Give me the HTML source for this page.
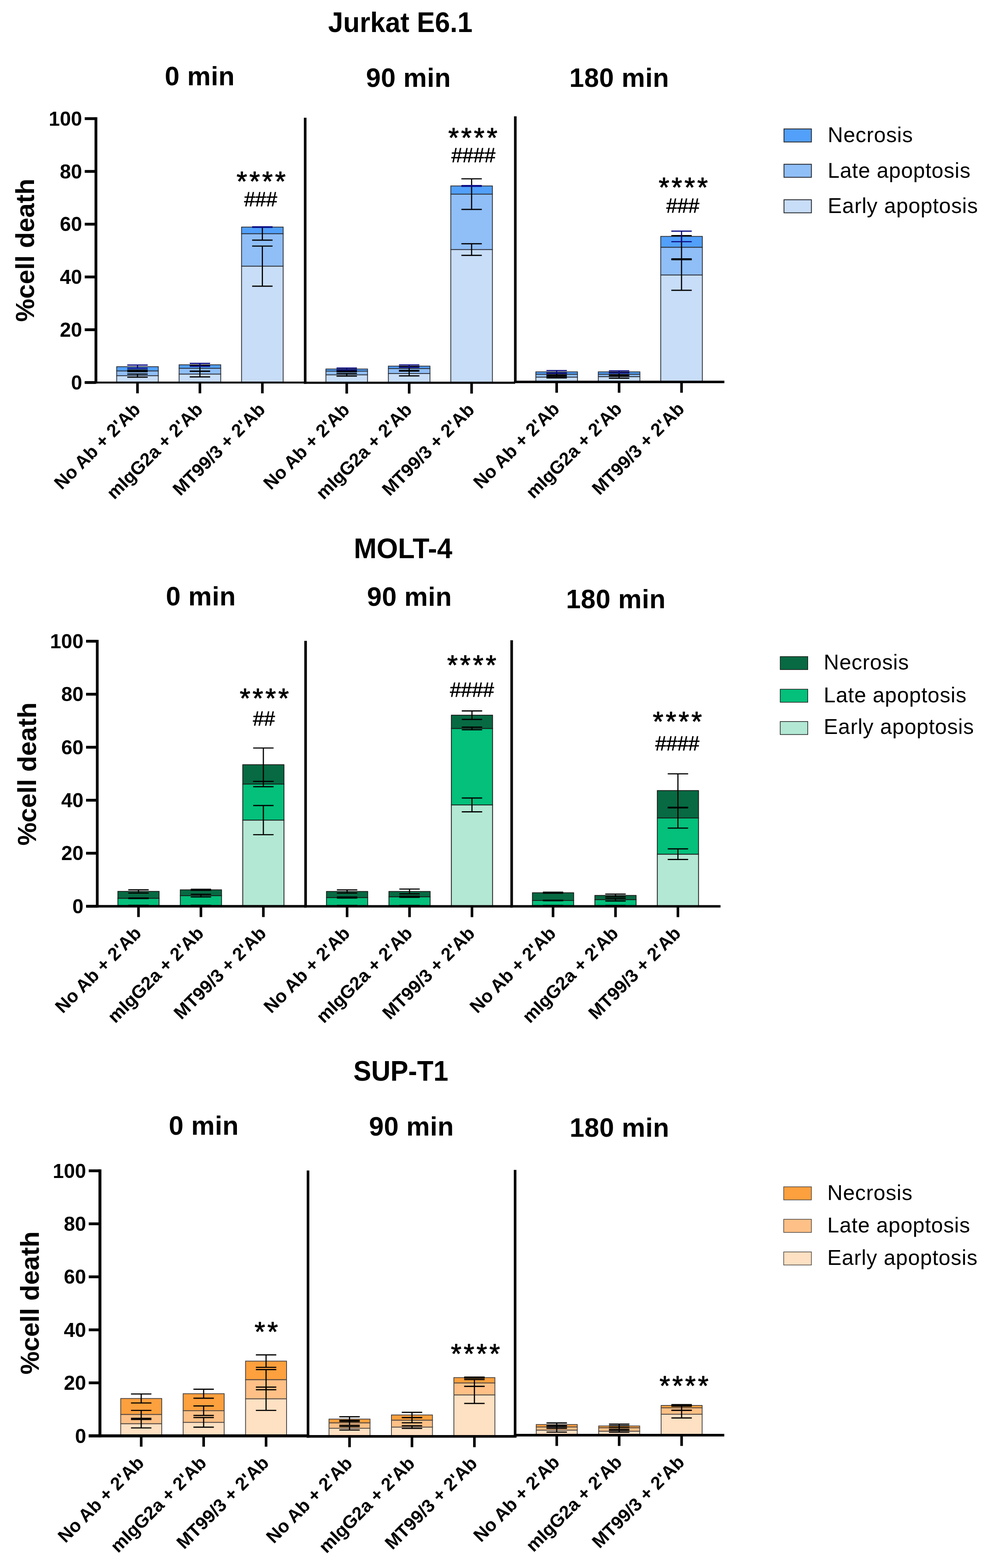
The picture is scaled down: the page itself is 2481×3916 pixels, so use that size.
<!DOCTYPE html>
<html><head><meta charset="utf-8"><title>Cell death</title>
<style>
html,body{margin:0;padding:0;background:#fff;}
svg{display:block;}
.b{font-family:'Liberation Sans', Arial, Helvetica, sans-serif;font-weight:bold;fill:#000;}
.r{font-family:'Liberation Sans', Arial, Helvetica, sans-serif;font-weight:normal;fill:#000;}
.hs{stroke:#000;stroke-width:0.9px;}
.ss{stroke:#000;stroke-width:1.3px;stroke-linejoin:round;}
</style></head><body>
<svg width="2481" height="3916" viewBox="0 0 2481 3916">
<rect width="2481" height="3916" fill="#fff"/>
<text x="1000.3" y="79.5" class="b" font-size="70" text-anchor="middle" textLength="360.9" lengthAdjust="spacingAndGlyphs">Jurkat E6.1</text>
<text x="499.2" y="212.9" class="b" font-size="66" letter-spacing="0.5" text-anchor="middle">0 min</text>
<text x="1020.5" y="216.7" class="b" font-size="66" letter-spacing="0.5" text-anchor="middle">90 min</text>
<text x="1547.2" y="217.4" class="b" font-size="66" letter-spacing="0.5" text-anchor="middle">180 min</text>
<text transform="translate(84.8,625) rotate(-90)" class="b" font-size="65" text-anchor="middle">%cell death</text>
<rect x="291.5" y="938.2" width="104" height="17.1" fill="#c8ddf7" stroke="#2b2f36" stroke-width="2"/>
<rect x="291.5" y="926.3" width="104" height="11.9" fill="#90bef7" stroke="#2b2f36" stroke-width="2"/>
<rect x="291.5" y="915.8" width="104" height="10.5" fill="#52a0fa" stroke="#2b2f36" stroke-width="2"/>
<rect x="447.5" y="934.2" width="104" height="21.1" fill="#c8ddf7" stroke="#2b2f36" stroke-width="2"/>
<rect x="447.5" y="919.7" width="104" height="14.5" fill="#90bef7" stroke="#2b2f36" stroke-width="2"/>
<rect x="447.5" y="911.1" width="104" height="8.6" fill="#52a0fa" stroke="#2b2f36" stroke-width="2"/>
<rect x="603.5" y="664.7" width="104" height="290.6" fill="#c8ddf7" stroke="#2b2f36" stroke-width="2"/>
<rect x="603.5" y="583.6" width="104" height="81.1" fill="#90bef7" stroke="#2b2f36" stroke-width="2"/>
<rect x="603.5" y="567.1" width="104" height="16.5" fill="#52a0fa" stroke="#2b2f36" stroke-width="2"/>
<path d="M343.5 934.2V942.1M318 934.2H369M318 942.1H369" stroke="#000000" stroke-width="2.9" fill="none"/>
<path d="M343.5 924.3V928.3M318 924.3H369M318 928.3H369" stroke="#000000" stroke-width="2.9" fill="none"/>
<path d="M343.5 911.8V919.7M318 911.8H369M318 919.7H369" stroke="#0c0c84" stroke-width="2.9" fill="none"/>
<path d="M499.5 927.2V941.2M474 927.2H525M474 941.2H525" stroke="#000000" stroke-width="2.9" fill="none"/>
<path d="M499.5 912.5V927M474 912.5H525M474 927H525" stroke="#000000" stroke-width="2.9" fill="none"/>
<path d="M499.5 907.5V914.8M474 907.5H525M474 914.8H525" stroke="#0c0c84" stroke-width="2.9" fill="none"/>
<path d="M655.5 614.6V714.8M630 614.6H681M630 714.8H681" stroke="#000000" stroke-width="2.9" fill="none"/>
<path d="M655.5 567.4V599.8M630 567.4H681M630 599.8H681" stroke="#000000" stroke-width="2.9" fill="none"/>
<path d="M655.5 566.5V567.8M630 566.5H681M630 567.8H681" stroke="#0c0c84" stroke-width="2.9" fill="none"/>
<path d="M211.7 955.3H762" stroke="#000" stroke-width="4.8"/>
<path d="M239.7 292.8V957.7" stroke="#000" stroke-width="7"/>
<path d="M211.7 955.3H239.7" stroke="#000" stroke-width="7"/>
<text x="205.2" y="972.8" class="b" font-size="50" text-anchor="end">0</text>
<path d="M211.7 823.5H239.7" stroke="#000" stroke-width="7"/>
<text x="205.2" y="841" class="b" font-size="50" text-anchor="end">20</text>
<path d="M211.7 691.7H239.7" stroke="#000" stroke-width="7"/>
<text x="205.2" y="709.2" class="b" font-size="50" text-anchor="end">40</text>
<path d="M211.7 559.9H239.7" stroke="#000" stroke-width="7"/>
<text x="205.2" y="577.4" class="b" font-size="50" text-anchor="end">60</text>
<path d="M211.7 428.1H239.7" stroke="#000" stroke-width="7"/>
<text x="205.2" y="445.6" class="b" font-size="50" text-anchor="end">80</text>
<path d="M211.7 296.3H239.7" stroke="#000" stroke-width="7"/>
<text x="205.2" y="313.8" class="b" font-size="50" text-anchor="end">100</text>
<path d="M343.5 955.3V982.3" stroke="#000" stroke-width="6.5"/>
<text transform="translate(353.2,1025.6) rotate(-45)" class="b" font-size="45.6" text-anchor="end">No Ab + 2'Ab</text>
<path d="M499.5 955.3V982.3" stroke="#000" stroke-width="6.5"/>
<text transform="translate(509.2,1025.6) rotate(-45)" class="b" font-size="45.6" text-anchor="end">mIgG2a + 2'Ab</text>
<path d="M655.5 955.3V982.3" stroke="#000" stroke-width="6.5"/>
<text transform="translate(665.2,1025.6) rotate(-45)" class="b" font-size="45.6" text-anchor="end">MT99/3 + 2'Ab</text>
<text x="655.1" y="475.7" class="r ss" font-size="68" letter-spacing="5.6" text-anchor="middle">****</text>
<text x="651.2" y="515.4" class="r hs" font-size="49.5" text-anchor="middle">###</text>
<rect x="814.3" y="936.1" width="104" height="19.8" fill="#c8ddf7" stroke="#2b2f36" stroke-width="2"/>
<rect x="814.3" y="926.9" width="104" height="9.2" fill="#90bef7" stroke="#2b2f36" stroke-width="2"/>
<rect x="814.3" y="921.6" width="104" height="5.3" fill="#52a0fa" stroke="#2b2f36" stroke-width="2"/>
<rect x="970.3" y="932.8" width="104" height="23.1" fill="#c8ddf7" stroke="#2b2f36" stroke-width="2"/>
<rect x="970.3" y="920.3" width="104" height="12.5" fill="#90bef7" stroke="#2b2f36" stroke-width="2"/>
<rect x="970.3" y="914.4" width="104" height="5.9" fill="#52a0fa" stroke="#2b2f36" stroke-width="2"/>
<rect x="1126.3" y="623.2" width="104" height="332.7" fill="#c8ddf7" stroke="#2b2f36" stroke-width="2"/>
<rect x="1126.3" y="484.8" width="104" height="138.4" fill="#90bef7" stroke="#2b2f36" stroke-width="2"/>
<rect x="1126.3" y="464.4" width="104" height="20.4" fill="#52a0fa" stroke="#2b2f36" stroke-width="2"/>
<path d="M866.3 932.8V939.4M840.8 932.8H891.8M840.8 939.4H891.8" stroke="#000000" stroke-width="2.9" fill="none"/>
<path d="M866.3 925.6V928.2M840.8 925.6H891.8M840.8 928.2H891.8" stroke="#000000" stroke-width="2.9" fill="none"/>
<path d="M866.3 919.3V923.9M840.8 919.3H891.8M840.8 923.9H891.8" stroke="#0c0c84" stroke-width="2.9" fill="none"/>
<path d="M1022.3 926.9V938.8M996.8 926.9H1047.8M996.8 938.8H1047.8" stroke="#000000" stroke-width="2.9" fill="none"/>
<path d="M1022.3 915.4V925.3M996.8 915.4H1047.8M996.8 925.3H1047.8" stroke="#000000" stroke-width="2.9" fill="none"/>
<path d="M1022.3 911.4V917.4M996.8 911.4H1047.8M996.8 917.4H1047.8" stroke="#0c0c84" stroke-width="2.9" fill="none"/>
<path d="M1178.3 608.7V637.7M1152.8 608.7H1203.8M1152.8 637.7H1203.8" stroke="#000000" stroke-width="2.9" fill="none"/>
<path d="M1178.3 446.6V523M1152.8 446.6H1203.8M1152.8 523H1203.8" stroke="#000000" stroke-width="2.9" fill="none"/>
<path d="M1178.3 463.4V465.3M1152.8 463.4H1203.8M1152.8 465.3H1203.8" stroke="#0c0c84" stroke-width="2.9" fill="none"/>
<path d="M759.2 955.9H1287" stroke="#000" stroke-width="5.2"/>
<path d="M762.5 294V958.5" stroke="#000" stroke-width="6.5"/>
<path d="M866.3 955.9V982.9" stroke="#000" stroke-width="6.5"/>
<text transform="translate(876,1026.2) rotate(-45)" class="b" font-size="45.6" text-anchor="end">No Ab + 2'Ab</text>
<path d="M1022.3 955.9V982.9" stroke="#000" stroke-width="6.5"/>
<text transform="translate(1032,1026.2) rotate(-45)" class="b" font-size="45.6" text-anchor="end">mIgG2a + 2'Ab</text>
<path d="M1178.3 955.9V982.9" stroke="#000" stroke-width="6.5"/>
<text transform="translate(1188,1026.2) rotate(-45)" class="b" font-size="45.6" text-anchor="end">MT99/3 + 2'Ab</text>
<text x="1184.1" y="366.9" class="r ss" font-size="68" letter-spacing="5.6" text-anchor="middle">****</text>
<text x="1182.8" y="405.4" class="r hs" font-size="49.5" text-anchor="middle">####</text>
<rect x="1338.8" y="941.9" width="104" height="11.9" fill="#c8ddf7" stroke="#2b2f36" stroke-width="2"/>
<rect x="1338.8" y="934.6" width="104" height="7.3" fill="#90bef7" stroke="#2b2f36" stroke-width="2"/>
<rect x="1338.8" y="928.7" width="104" height="5.9" fill="#52a0fa" stroke="#2b2f36" stroke-width="2"/>
<rect x="1494.8" y="940.6" width="104" height="13.2" fill="#c8ddf7" stroke="#2b2f36" stroke-width="2"/>
<rect x="1494.8" y="934.6" width="104" height="5.9" fill="#90bef7" stroke="#2b2f36" stroke-width="2"/>
<rect x="1494.8" y="928.7" width="104" height="5.9" fill="#52a0fa" stroke="#2b2f36" stroke-width="2"/>
<rect x="1650.8" y="686.7" width="104" height="267" fill="#c8ddf7" stroke="#2b2f36" stroke-width="2"/>
<rect x="1650.8" y="617.5" width="104" height="69.2" fill="#90bef7" stroke="#2b2f36" stroke-width="2"/>
<rect x="1650.8" y="590.4" width="104" height="27" fill="#52a0fa" stroke="#2b2f36" stroke-width="2"/>
<path d="M1390.8 939.9V943.9M1365.3 939.9H1416.3M1365.3 943.9H1416.3" stroke="#000000" stroke-width="2.9" fill="none"/>
<path d="M1390.8 932V937.3M1365.3 932H1416.3M1365.3 937.3H1416.3" stroke="#000000" stroke-width="2.9" fill="none"/>
<path d="M1390.8 925.4V932M1365.3 925.4H1416.3M1365.3 932H1416.3" stroke="#0c0c84" stroke-width="2.9" fill="none"/>
<path d="M1546.8 936.6V944.5M1521.3 936.6H1572.3M1521.3 944.5H1572.3" stroke="#000000" stroke-width="2.9" fill="none"/>
<path d="M1546.8 930.7V938.6M1521.3 930.7H1572.3M1521.3 938.6H1572.3" stroke="#000000" stroke-width="2.9" fill="none"/>
<path d="M1546.8 926.1V931.3M1521.3 926.1H1572.3M1521.3 931.3H1572.3" stroke="#0c0c84" stroke-width="2.9" fill="none"/>
<path d="M1702.8 648.5V725M1677.3 648.5H1728.3M1677.3 725H1728.3" stroke="#000000" stroke-width="2.9" fill="none"/>
<path d="M1702.8 588.5V646.5M1677.3 588.5H1728.3M1677.3 646.5H1728.3" stroke="#000000" stroke-width="2.9" fill="none"/>
<path d="M1702.8 577.3V603.6M1677.3 577.3H1728.3M1677.3 603.6H1728.3" stroke="#0c0c84" stroke-width="2.9" fill="none"/>
<path d="M1284.2 953.8H1809.8" stroke="#000" stroke-width="6.3"/>
<path d="M1287.5 290.5V956.9" stroke="#000" stroke-width="6.5"/>
<path d="M1390.8 953.8V980.8" stroke="#000" stroke-width="6.5"/>
<text transform="translate(1400.5,1024) rotate(-45)" class="b" font-size="45.6" text-anchor="end">No Ab + 2'Ab</text>
<path d="M1546.8 953.8V980.8" stroke="#000" stroke-width="6.5"/>
<text transform="translate(1556.5,1024) rotate(-45)" class="b" font-size="45.6" text-anchor="end">mIgG2a + 2'Ab</text>
<path d="M1702.8 953.8V980.8" stroke="#000" stroke-width="6.5"/>
<text transform="translate(1712.5,1024) rotate(-45)" class="b" font-size="45.6" text-anchor="end">MT99/3 + 2'Ab</text>
<text x="1709.9" y="491.1" class="r ss" font-size="68" letter-spacing="5.6" text-anchor="middle">****</text>
<text x="1706.1" y="530.5" class="r hs" font-size="49.5" text-anchor="middle">###</text>
<rect x="1958.8" y="322" width="68.5" height="32.6" fill="#52a0fa" stroke="#2b2f36" stroke-width="2.2"/>
<text x="2068" y="355" class="r" font-size="53" letter-spacing="0.9">Necrosis</text>
<rect x="1958.8" y="410.2" width="68.5" height="32.6" fill="#90bef7" stroke="#2b2f36" stroke-width="2.2"/>
<text x="2068" y="443.5" class="r" font-size="53" letter-spacing="0.9">Late apoptosis</text>
<rect x="1958.8" y="498.9" width="68.5" height="32.6" fill="#c8ddf7" stroke="#2b2f36" stroke-width="2.2"/>
<text x="2068" y="532.2" class="r" font-size="53" letter-spacing="0.9">Early apoptosis</text>
<text x="1007" y="1394.3" class="b" font-size="69.5" text-anchor="middle" textLength="246.2" lengthAdjust="spacingAndGlyphs">MOLT-4</text>
<text x="501.9" y="1512.3" class="b" font-size="66" letter-spacing="0.5" text-anchor="middle">0 min</text>
<text x="1023" y="1513.4" class="b" font-size="66" letter-spacing="0.5" text-anchor="middle">90 min</text>
<text x="1538.8" y="1518.6" class="b" font-size="66" letter-spacing="0.5" text-anchor="middle">180 min</text>
<text transform="translate(90.2,1933) rotate(-90)" class="b" font-size="65" text-anchor="middle">%cell death</text>
<rect x="294.5" y="2261.3" width="103" height="2" fill="#b3e8d4" stroke="#1a1a1a" stroke-width="2"/>
<rect x="294.5" y="2243.4" width="103" height="17.9" fill="#04c07b" stroke="#1a1a1a" stroke-width="2"/>
<rect x="294.5" y="2226.2" width="103" height="17.2" fill="#076a43" stroke="#1a1a1a" stroke-width="2"/>
<rect x="450.5" y="2261.3" width="103" height="2" fill="#b3e8d4" stroke="#1a1a1a" stroke-width="2"/>
<rect x="450.5" y="2236.8" width="103" height="24.5" fill="#04c07b" stroke="#1a1a1a" stroke-width="2"/>
<rect x="450.5" y="2222.3" width="103" height="14.6" fill="#076a43" stroke="#1a1a1a" stroke-width="2"/>
<rect x="606.5" y="2048.2" width="103" height="215.1" fill="#b3e8d4" stroke="#1a1a1a" stroke-width="2"/>
<rect x="606.5" y="1958.2" width="103" height="90" fill="#04c07b" stroke="#1a1a1a" stroke-width="2"/>
<rect x="606.5" y="1909.8" width="103" height="48.3" fill="#076a43" stroke="#1a1a1a" stroke-width="2"/>
<path d="M346 2261V2261.6M320.5 2261H371.5M320.5 2261.6H371.5" stroke="#000000" stroke-width="2.9" fill="none"/>
<path d="M346 2242.8V2244.1M320.5 2242.8H371.5M320.5 2244.1H371.5" stroke="#000000" stroke-width="2.9" fill="none"/>
<path d="M346 2222.3V2230.2M320.5 2222.3H371.5M320.5 2230.2H371.5" stroke="#000000" stroke-width="2.9" fill="none"/>
<path d="M502 2261V2261.6M476.5 2261H527.5M476.5 2261.6H527.5" stroke="#000000" stroke-width="2.9" fill="none"/>
<path d="M502 2233.5V2240.1M476.5 2233.5H527.5M476.5 2240.1H527.5" stroke="#000000" stroke-width="2.9" fill="none"/>
<path d="M502 2220.9V2223.6M476.5 2220.9H527.5M476.5 2223.6H527.5" stroke="#000000" stroke-width="2.9" fill="none"/>
<path d="M658 2011.8V2084.6M632.5 2011.8H683.5M632.5 2084.6H683.5" stroke="#000000" stroke-width="2.9" fill="none"/>
<path d="M658 1951.5V1964.8M632.5 1951.5H683.5M632.5 1964.8H683.5" stroke="#000000" stroke-width="2.9" fill="none"/>
<path d="M658 1868.1V1951.5M632.5 1868.1H683.5M632.5 1951.5H683.5" stroke="#000000" stroke-width="2.9" fill="none"/>
<path d="M215 2263.3H763.5" stroke="#000" stroke-width="6.2"/>
<path d="M243 1597.9V2266.4" stroke="#000" stroke-width="6.8"/>
<path d="M215 2263.3H243" stroke="#000" stroke-width="7"/>
<text x="208.5" y="2280.8" class="b" font-size="50" text-anchor="end">0</text>
<path d="M215 2130.9H243" stroke="#000" stroke-width="7"/>
<text x="208.5" y="2148.4" class="b" font-size="50" text-anchor="end">20</text>
<path d="M215 1998.5H243" stroke="#000" stroke-width="7"/>
<text x="208.5" y="2016" class="b" font-size="50" text-anchor="end">40</text>
<path d="M215 1866.2H243" stroke="#000" stroke-width="7"/>
<text x="208.5" y="1883.7" class="b" font-size="50" text-anchor="end">60</text>
<path d="M215 1733.8H243" stroke="#000" stroke-width="7"/>
<text x="208.5" y="1751.3" class="b" font-size="50" text-anchor="end">80</text>
<path d="M215 1601.4H243" stroke="#000" stroke-width="7"/>
<text x="208.5" y="1618.9" class="b" font-size="50" text-anchor="end">100</text>
<path d="M346 2263.3V2290.3" stroke="#000" stroke-width="6.5"/>
<text transform="translate(355.7,2333.6) rotate(-45)" class="b" font-size="45.6" text-anchor="end">No Ab + 2'Ab</text>
<path d="M502 2263.3V2290.3" stroke="#000" stroke-width="6.5"/>
<text transform="translate(511.7,2333.6) rotate(-45)" class="b" font-size="45.6" text-anchor="end">mIgG2a + 2'Ab</text>
<path d="M658 2263.3V2290.3" stroke="#000" stroke-width="6.5"/>
<text transform="translate(667.7,2333.6) rotate(-45)" class="b" font-size="45.6" text-anchor="end">MT99/3 + 2'Ab</text>
<text x="663.1" y="1767" class="r ss" font-size="68" letter-spacing="5.6" text-anchor="middle">****</text>
<text x="659.5" y="1812.3" class="r hs" font-size="49.5" text-anchor="middle">##</text>
<rect x="815.7" y="2261.5" width="103" height="2" fill="#b3e8d4" stroke="#1a1a1a" stroke-width="2"/>
<rect x="815.7" y="2241.6" width="103" height="19.9" fill="#04c07b" stroke="#1a1a1a" stroke-width="2"/>
<rect x="815.7" y="2226.4" width="103" height="15.2" fill="#076a43" stroke="#1a1a1a" stroke-width="2"/>
<rect x="971.7" y="2261.5" width="103" height="2" fill="#b3e8d4" stroke="#1a1a1a" stroke-width="2"/>
<rect x="971.7" y="2239.6" width="103" height="21.9" fill="#04c07b" stroke="#1a1a1a" stroke-width="2"/>
<rect x="971.7" y="2226.4" width="103" height="13.3" fill="#076a43" stroke="#1a1a1a" stroke-width="2"/>
<rect x="1127.7" y="2010.2" width="103" height="253.3" fill="#b3e8d4" stroke="#1a1a1a" stroke-width="2"/>
<rect x="1127.7" y="1819.3" width="103" height="190.9" fill="#04c07b" stroke="#1a1a1a" stroke-width="2"/>
<rect x="1127.7" y="1786.1" width="103" height="33.2" fill="#076a43" stroke="#1a1a1a" stroke-width="2"/>
<path d="M867.2 2261.2V2261.8M841.7 2261.2H892.7M841.7 2261.8H892.7" stroke="#000000" stroke-width="2.9" fill="none"/>
<path d="M867.2 2240.3V2242.9M841.7 2240.3H892.7M841.7 2242.9H892.7" stroke="#000000" stroke-width="2.9" fill="none"/>
<path d="M867.2 2222.4V2230.3M841.7 2222.4H892.7M841.7 2230.3H892.7" stroke="#000000" stroke-width="2.9" fill="none"/>
<path d="M1023.2 2261.2V2261.8M997.7 2261.2H1048.7M997.7 2261.8H1048.7" stroke="#000000" stroke-width="2.9" fill="none"/>
<path d="M1023.2 2238.3V2241M997.7 2238.3H1048.7M997.7 2241H1048.7" stroke="#000000" stroke-width="2.9" fill="none"/>
<path d="M1023.2 2220.4V2232.3M997.7 2220.4H1048.7M997.7 2232.3H1048.7" stroke="#000000" stroke-width="2.9" fill="none"/>
<path d="M1179.2 1993V2027.5M1153.7 1993H1204.7M1153.7 2027.5H1204.7" stroke="#000000" stroke-width="2.9" fill="none"/>
<path d="M1179.2 1816V1822.6M1153.7 1816H1204.7M1153.7 1822.6H1204.7" stroke="#000000" stroke-width="2.9" fill="none"/>
<path d="M1179.2 1775.5V1796.7M1153.7 1775.5H1204.7M1153.7 1796.7H1204.7" stroke="#000000" stroke-width="2.9" fill="none"/>
<path d="M760.2 2263.5H1278.4" stroke="#000" stroke-width="6.2"/>
<path d="M763.5 1600.5V2266.6" stroke="#000" stroke-width="6.5"/>
<path d="M867.2 2263.5V2290.5" stroke="#000" stroke-width="6.5"/>
<text transform="translate(876.9,2333.8) rotate(-45)" class="b" font-size="45.6" text-anchor="end">No Ab + 2'Ab</text>
<path d="M1023.2 2263.5V2290.5" stroke="#000" stroke-width="6.5"/>
<text transform="translate(1032.9,2333.8) rotate(-45)" class="b" font-size="45.6" text-anchor="end">mIgG2a + 2'Ab</text>
<path d="M1179.2 2263.5V2290.5" stroke="#000" stroke-width="6.5"/>
<text transform="translate(1188.9,2333.8) rotate(-45)" class="b" font-size="45.6" text-anchor="end">MT99/3 + 2'Ab</text>
<text x="1181.4" y="1684" class="r ss" font-size="68" letter-spacing="5.6" text-anchor="middle">****</text>
<text x="1179.2" y="1740" class="r hs" font-size="49.5" text-anchor="middle">####</text>
<rect x="1330.3" y="2261.5" width="103" height="2" fill="#b3e8d4" stroke="#1a1a1a" stroke-width="2"/>
<rect x="1330.3" y="2248.9" width="103" height="12.6" fill="#04c07b" stroke="#1a1a1a" stroke-width="2"/>
<rect x="1330.3" y="2229.6" width="103" height="19.3" fill="#076a43" stroke="#1a1a1a" stroke-width="2"/>
<rect x="1486.3" y="2261.5" width="103" height="2" fill="#b3e8d4" stroke="#1a1a1a" stroke-width="2"/>
<rect x="1486.3" y="2246.9" width="103" height="14.6" fill="#04c07b" stroke="#1a1a1a" stroke-width="2"/>
<rect x="1486.3" y="2236.3" width="103" height="10.6" fill="#076a43" stroke="#1a1a1a" stroke-width="2"/>
<rect x="1642.3" y="2133.3" width="103" height="130.2" fill="#b3e8d4" stroke="#1a1a1a" stroke-width="2"/>
<rect x="1642.3" y="2042.9" width="103" height="90.4" fill="#04c07b" stroke="#1a1a1a" stroke-width="2"/>
<rect x="1642.3" y="1974.4" width="103" height="68.4" fill="#076a43" stroke="#1a1a1a" stroke-width="2"/>
<path d="M1381.8 2261.2V2261.8M1356.3 2261.2H1407.3M1356.3 2261.8H1407.3" stroke="#000000" stroke-width="2.9" fill="none"/>
<path d="M1381.8 2248.2V2249.5M1356.3 2248.2H1407.3M1356.3 2249.5H1407.3" stroke="#000000" stroke-width="2.9" fill="none"/>
<path d="M1381.8 2228.3V2230.9M1356.3 2228.3H1407.3M1356.3 2230.9H1407.3" stroke="#000000" stroke-width="2.9" fill="none"/>
<path d="M1537.8 2261.2V2261.8M1512.3 2261.2H1563.3M1512.3 2261.8H1563.3" stroke="#000000" stroke-width="2.9" fill="none"/>
<path d="M1537.8 2243.6V2250.2M1512.3 2243.6H1563.3M1512.3 2250.2H1563.3" stroke="#000000" stroke-width="2.9" fill="none"/>
<path d="M1537.8 2232.9V2239.6M1512.3 2232.9H1563.3M1512.3 2239.6H1563.3" stroke="#000000" stroke-width="2.9" fill="none"/>
<path d="M1693.8 2120V2146.5M1668.3 2120H1719.3M1668.3 2146.5H1719.3" stroke="#000000" stroke-width="2.9" fill="none"/>
<path d="M1693.8 2017.6V2068.1M1668.3 2017.6H1719.3M1668.3 2068.1H1719.3" stroke="#000000" stroke-width="2.9" fill="none"/>
<path d="M1693.8 1932.6V2016.3M1668.3 1932.6H1719.3M1668.3 2016.3H1719.3" stroke="#000000" stroke-width="2.9" fill="none"/>
<path d="M1275.2 2263.5H1800.2" stroke="#000" stroke-width="6.2"/>
<path d="M1278.4 1599V2266.6" stroke="#000" stroke-width="6.5"/>
<path d="M1381.8 2263.5V2290.5" stroke="#000" stroke-width="6.5"/>
<text transform="translate(1391.5,2333.8) rotate(-45)" class="b" font-size="45.6" text-anchor="end">No Ab + 2'Ab</text>
<path d="M1537.8 2263.5V2290.5" stroke="#000" stroke-width="6.5"/>
<text transform="translate(1547.5,2333.8) rotate(-45)" class="b" font-size="45.6" text-anchor="end">mIgG2a + 2'Ab</text>
<path d="M1693.8 2263.5V2290.5" stroke="#000" stroke-width="6.5"/>
<text transform="translate(1703.5,2333.8) rotate(-45)" class="b" font-size="45.6" text-anchor="end">MT99/3 + 2'Ab</text>
<text x="1695.2" y="1824.6" class="r ss" font-size="68" letter-spacing="5.6" text-anchor="middle">****</text>
<text x="1692.3" y="1874" class="r hs" font-size="49.5" text-anchor="middle">####</text>
<rect x="1949.4" y="1639.8" width="68.8" height="32.5" fill="#076a43" stroke="#1a1a1a" stroke-width="1.6"/>
<text x="2058" y="1672.3" class="r" font-size="53" letter-spacing="0.9">Necrosis</text>
<rect x="1949.4" y="1721.3" width="68.8" height="32.5" fill="#04c07b" stroke="#1a1a1a" stroke-width="1.6"/>
<text x="2058" y="1753.5" class="r" font-size="53" letter-spacing="0.9">Late apoptosis</text>
<rect x="1949.4" y="1802" width="68.8" height="32.5" fill="#b3e8d4" stroke="#1a1a1a" stroke-width="1.6"/>
<text x="2058" y="1833" class="r" font-size="53" letter-spacing="0.9">Early apoptosis</text>
<text x="1001.5" y="2698.8" class="b" font-size="71" text-anchor="middle" textLength="236.9" lengthAdjust="spacingAndGlyphs">SUP-T1</text>
<text x="509.2" y="2833.9" class="b" font-size="66" letter-spacing="0.5" text-anchor="middle">0 min</text>
<text x="1028" y="2836.1" class="b" font-size="66" letter-spacing="0.5" text-anchor="middle">90 min</text>
<text x="1547.8" y="2838.9" class="b" font-size="66" letter-spacing="0.5" text-anchor="middle">180 min</text>
<text transform="translate(97,3254) rotate(-90)" class="b" font-size="65" text-anchor="middle">%cell death</text>
<rect x="301.6" y="3555.5" width="102.5" height="30.5" fill="#fee0c2" stroke="#4a4440" stroke-width="2"/>
<rect x="301.6" y="3532.4" width="102.5" height="23.2" fill="#fec086" stroke="#4a4440" stroke-width="2"/>
<rect x="301.6" y="3492.7" width="102.5" height="39.7" fill="#fda03e" stroke="#4a4440" stroke-width="2"/>
<rect x="457.6" y="3552.2" width="102.5" height="33.8" fill="#fee0c2" stroke="#4a4440" stroke-width="2"/>
<rect x="457.6" y="3523.1" width="102.5" height="29.1" fill="#fec086" stroke="#4a4440" stroke-width="2"/>
<rect x="457.6" y="3480.7" width="102.5" height="42.4" fill="#fda03e" stroke="#4a4440" stroke-width="2"/>
<rect x="613.5" y="3493.3" width="102.5" height="92.7" fill="#fee0c2" stroke="#4a4440" stroke-width="2"/>
<rect x="613.5" y="3445.7" width="102.5" height="47.7" fill="#fec086" stroke="#4a4440" stroke-width="2"/>
<rect x="613.5" y="3399.3" width="102.5" height="46.3" fill="#fda03e" stroke="#4a4440" stroke-width="2"/>
<path d="M352.8 3545V3566.1M327.3 3545H378.3M327.3 3566.1H378.3" stroke="#000000" stroke-width="2.9" fill="none"/>
<path d="M352.8 3522.4V3542.3M327.3 3522.4H378.3M327.3 3542.3H378.3" stroke="#000000" stroke-width="2.9" fill="none"/>
<path d="M352.8 3481.4V3503.9M327.3 3481.4H378.3M327.3 3503.9H378.3" stroke="#000000" stroke-width="2.9" fill="none"/>
<path d="M508.8 3540.3V3564.2M483.3 3540.3H534.3M483.3 3564.2H534.3" stroke="#000000" stroke-width="2.9" fill="none"/>
<path d="M508.8 3511.2V3535M483.3 3511.2H534.3M483.3 3535H534.3" stroke="#000000" stroke-width="2.9" fill="none"/>
<path d="M508.8 3469.5V3492M483.3 3469.5H534.3M483.3 3492H534.3" stroke="#000000" stroke-width="2.9" fill="none"/>
<path d="M664.8 3464.2V3522.4M639.3 3464.2H690.3M639.3 3522.4H690.3" stroke="#000000" stroke-width="2.9" fill="none"/>
<path d="M664.8 3420.5V3470.8M639.3 3420.5H690.3M639.3 3470.8H690.3" stroke="#000000" stroke-width="2.9" fill="none"/>
<path d="M664.8 3383.7V3414.9M639.3 3383.7H690.3M639.3 3414.9H690.3" stroke="#000000" stroke-width="2.9" fill="none"/>
<path d="M221.7 3586H769.6" stroke="#000" stroke-width="7.3"/>
<path d="M249.7 2920.5V3589.7" stroke="#000" stroke-width="7.3"/>
<path d="M221.7 3586H249.7" stroke="#000" stroke-width="7"/>
<text x="215.2" y="3603.5" class="b" font-size="50" text-anchor="end">0</text>
<path d="M221.7 3453.6H249.7" stroke="#000" stroke-width="7"/>
<text x="215.2" y="3471.1" class="b" font-size="50" text-anchor="end">20</text>
<path d="M221.7 3321.2H249.7" stroke="#000" stroke-width="7"/>
<text x="215.2" y="3338.7" class="b" font-size="50" text-anchor="end">40</text>
<path d="M221.7 3188.8H249.7" stroke="#000" stroke-width="7"/>
<text x="215.2" y="3206.3" class="b" font-size="50" text-anchor="end">60</text>
<path d="M221.7 3056.4H249.7" stroke="#000" stroke-width="7"/>
<text x="215.2" y="3073.9" class="b" font-size="50" text-anchor="end">80</text>
<path d="M221.7 2924H249.7" stroke="#000" stroke-width="7"/>
<text x="215.2" y="2941.5" class="b" font-size="50" text-anchor="end">100</text>
<path d="M352.8 3586V3613" stroke="#000" stroke-width="6.5"/>
<text transform="translate(362.5,3656.3) rotate(-45)" class="b" font-size="45.6" text-anchor="end">No Ab + 2'Ab</text>
<path d="M508.8 3586V3613" stroke="#000" stroke-width="6.5"/>
<text transform="translate(518.5,3656.3) rotate(-45)" class="b" font-size="45.6" text-anchor="end">mIgG2a + 2'Ab</text>
<path d="M664.8 3586V3613" stroke="#000" stroke-width="6.5"/>
<text transform="translate(674.5,3656.3) rotate(-45)" class="b" font-size="45.6" text-anchor="end">MT99/3 + 2'Ab</text>
<text x="668.1" y="3349.1" class="r ss" font-size="68" letter-spacing="5.6" text-anchor="middle">**</text>
<rect x="822" y="3567" width="102.5" height="20.3" fill="#fee0c2" stroke="#4a4440" stroke-width="2"/>
<rect x="822" y="3553.4" width="102.5" height="13.6" fill="#fec086" stroke="#4a4440" stroke-width="2"/>
<rect x="822" y="3544.1" width="102.5" height="9.3" fill="#fda03e" stroke="#4a4440" stroke-width="2"/>
<rect x="978" y="3564.1" width="102.5" height="23.2" fill="#fee0c2" stroke="#4a4440" stroke-width="2"/>
<rect x="978" y="3546.8" width="102.5" height="17.3" fill="#fec086" stroke="#4a4440" stroke-width="2"/>
<rect x="978" y="3533.8" width="102.5" height="12.9" fill="#fda03e" stroke="#4a4440" stroke-width="2"/>
<rect x="1134" y="3483.7" width="102.5" height="103.6" fill="#fee0c2" stroke="#4a4440" stroke-width="2"/>
<rect x="1134" y="3453.8" width="102.5" height="29.9" fill="#fec086" stroke="#4a4440" stroke-width="2"/>
<rect x="1134" y="3440.5" width="102.5" height="13.3" fill="#fda03e" stroke="#4a4440" stroke-width="2"/>
<path d="M873.3 3562.7V3571.4M847.8 3562.7H898.8M847.8 3571.4H898.8" stroke="#000000" stroke-width="2.9" fill="none"/>
<path d="M873.3 3547.5V3559.4M847.8 3547.5H898.8M847.8 3559.4H898.8" stroke="#000000" stroke-width="2.9" fill="none"/>
<path d="M873.3 3538.2V3550.1M847.8 3538.2H898.8M847.8 3550.1H898.8" stroke="#000000" stroke-width="2.9" fill="none"/>
<path d="M1029.3 3560.7V3567.4M1003.8 3560.7H1054.8M1003.8 3567.4H1054.8" stroke="#000000" stroke-width="2.9" fill="none"/>
<path d="M1029.3 3540.1V3553.4M1003.8 3540.1H1054.8M1003.8 3553.4H1054.8" stroke="#000000" stroke-width="2.9" fill="none"/>
<path d="M1029.3 3527.2V3540.5M1003.8 3527.2H1054.8M1003.8 3540.5H1054.8" stroke="#000000" stroke-width="2.9" fill="none"/>
<path d="M1185.3 3462.4V3505M1159.8 3462.4H1210.8M1159.8 3505H1210.8" stroke="#000000" stroke-width="2.9" fill="none"/>
<path d="M1185.3 3445.4V3462.2M1159.8 3445.4H1210.8M1159.8 3462.2H1210.8" stroke="#000000" stroke-width="2.9" fill="none"/>
<path d="M1185.3 3439.2V3441.9M1159.8 3439.2H1210.8M1159.8 3441.9H1210.8" stroke="#000000" stroke-width="2.9" fill="none"/>
<path d="M766.4 3587.3H1290.6" stroke="#000" stroke-width="6.5"/>
<path d="M769.6 2923.2V3590.6" stroke="#000" stroke-width="6.5"/>
<path d="M873.3 3587.3V3614.3" stroke="#000" stroke-width="6.5"/>
<text transform="translate(883,3657.6) rotate(-45)" class="b" font-size="45.6" text-anchor="end">No Ab + 2'Ab</text>
<path d="M1029.3 3587.3V3614.3" stroke="#000" stroke-width="6.5"/>
<text transform="translate(1039,3657.6) rotate(-45)" class="b" font-size="45.6" text-anchor="end">mIgG2a + 2'Ab</text>
<path d="M1185.3 3587.3V3614.3" stroke="#000" stroke-width="6.5"/>
<text transform="translate(1195,3657.6) rotate(-45)" class="b" font-size="45.6" text-anchor="end">MT99/3 + 2'Ab</text>
<text x="1190.6" y="3404" class="r ss" font-size="68" letter-spacing="5.6" text-anchor="middle">****</text>
<rect x="1339.8" y="3571.6" width="102.5" height="12.6" fill="#fee0c2" stroke="#4a4440" stroke-width="2"/>
<rect x="1339.8" y="3563.7" width="102.5" height="7.9" fill="#fec086" stroke="#4a4440" stroke-width="2"/>
<rect x="1339.8" y="3557.7" width="102.5" height="6" fill="#fda03e" stroke="#4a4440" stroke-width="2"/>
<rect x="1495.8" y="3574.3" width="102.5" height="9.9" fill="#fee0c2" stroke="#4a4440" stroke-width="2"/>
<rect x="1495.8" y="3565.7" width="102.5" height="8.6" fill="#fec086" stroke="#4a4440" stroke-width="2"/>
<rect x="1495.8" y="3561.3" width="102.5" height="4.4" fill="#fda03e" stroke="#4a4440" stroke-width="2"/>
<rect x="1651.8" y="3531.9" width="102.5" height="52.3" fill="#fee0c2" stroke="#4a4440" stroke-width="2"/>
<rect x="1651.8" y="3516" width="102.5" height="15.9" fill="#fec086" stroke="#4a4440" stroke-width="2"/>
<rect x="1651.8" y="3510" width="102.5" height="6" fill="#fda03e" stroke="#4a4440" stroke-width="2"/>
<path d="M1391 3566.6V3576.6M1365.5 3566.6H1416.5M1365.5 3576.6H1416.5" stroke="#000000" stroke-width="2.9" fill="none"/>
<path d="M1391 3560.4V3567M1365.5 3560.4H1416.5M1365.5 3567H1416.5" stroke="#000000" stroke-width="2.9" fill="none"/>
<path d="M1391 3553.7V3561.7M1365.5 3553.7H1416.5M1365.5 3561.7H1416.5" stroke="#000000" stroke-width="2.9" fill="none"/>
<path d="M1547 3571.6V3576.9M1521.5 3571.6H1572.5M1521.5 3576.9H1572.5" stroke="#000000" stroke-width="2.9" fill="none"/>
<path d="M1547 3561V3570.3M1521.5 3561H1572.5M1521.5 3570.3H1572.5" stroke="#000000" stroke-width="2.9" fill="none"/>
<path d="M1547 3556.8V3565.8M1521.5 3556.8H1572.5M1521.5 3565.8H1572.5" stroke="#000000" stroke-width="2.9" fill="none"/>
<path d="M1703 3522.4V3541.3M1677.5 3522.4H1728.5M1677.5 3541.3H1728.5" stroke="#000000" stroke-width="2.9" fill="none"/>
<path d="M1703 3510V3521.9M1677.5 3510H1728.5M1677.5 3521.9H1728.5" stroke="#000000" stroke-width="2.9" fill="none"/>
<path d="M1703 3508V3512M1677.5 3508H1728.5M1677.5 3512H1728.5" stroke="#000000" stroke-width="2.9" fill="none"/>
<path d="M1283.8 3584.2H1809.6" stroke="#000" stroke-width="6.5"/>
<path d="M1287 2921.8V3587.4" stroke="#000" stroke-width="6.5"/>
<path d="M1391 3584.2V3611.2" stroke="#000" stroke-width="6.5"/>
<text transform="translate(1400.7,3654.5) rotate(-45)" class="b" font-size="45.6" text-anchor="end">No Ab + 2'Ab</text>
<path d="M1547 3584.2V3611.2" stroke="#000" stroke-width="6.5"/>
<text transform="translate(1556.7,3654.5) rotate(-45)" class="b" font-size="45.6" text-anchor="end">mIgG2a + 2'Ab</text>
<path d="M1703 3584.2V3611.2" stroke="#000" stroke-width="6.5"/>
<text transform="translate(1712.7,3654.5) rotate(-45)" class="b" font-size="45.6" text-anchor="end">MT99/3 + 2'Ab</text>
<text x="1711.8" y="3484" class="r ss" font-size="68" letter-spacing="5.6" text-anchor="middle">****</text>
<rect x="1958.1" y="2964" width="69.2" height="32.7" fill="#fda03e" stroke="#4a4440" stroke-width="1.6"/>
<text x="2067" y="2996.5" class="r" font-size="53" letter-spacing="0.9">Necrosis</text>
<rect x="1958.1" y="3045.1" width="69.2" height="32.7" fill="#fec086" stroke="#4a4440" stroke-width="1.6"/>
<text x="2067" y="3077.8" class="r" font-size="53" letter-spacing="0.9">Late apoptosis</text>
<rect x="1958.1" y="3126.6" width="69.2" height="32.7" fill="#fee0c2" stroke="#4a4440" stroke-width="1.6"/>
<text x="2067" y="3159.1" class="r" font-size="53" letter-spacing="0.9">Early apoptosis</text>
</svg>
</body></html>
